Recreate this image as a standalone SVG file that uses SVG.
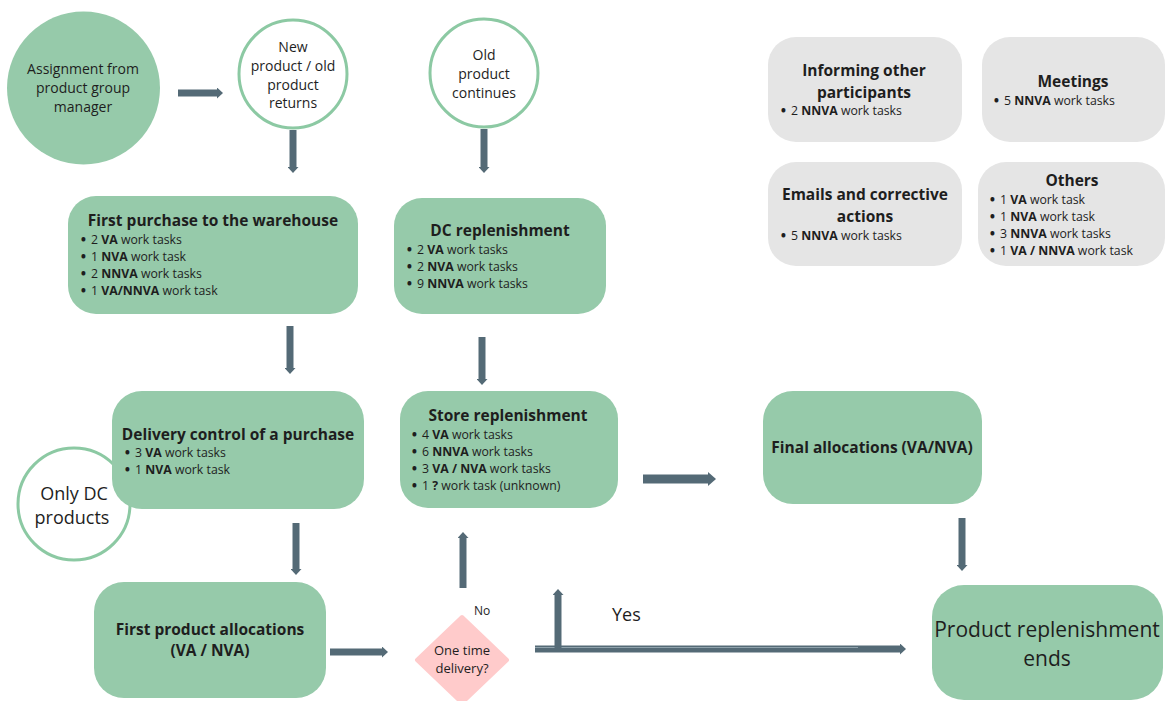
<svg xmlns="http://www.w3.org/2000/svg" width="1173" height="701" viewBox="0 0 1173 701">
  <defs>
    <marker id="head" viewBox="0 0 6 11" refX="0" refY="5.5" markerWidth="6" markerHeight="11" markerUnits="userSpaceOnUse" orient="auto">
      <path d="M0,0 L6,5.5 L0,11 z" fill="#546A76"/>
    </marker>
    <marker id="headBig" viewBox="0 0 8 14" refX="0" refY="7" markerWidth="8" markerHeight="14" markerUnits="userSpaceOnUse" orient="auto">
      <path d="M0,0 L8,7 L0,14 z" fill="#546A76"/>
    </marker>
  </defs>
  <style>
    text { font-family: "Open Sans", "Noto Sans", "Liberation Sans", sans-serif; fill: #1e1e1e; }
    .box { fill: #96CAAA; }
    .grey { fill: #E5E5E5; }
    .ring { fill: #ffffff; stroke: #8CC9A3; stroke-width: 3; }
    .title { font-size: 15.5px; font-weight: 700; text-anchor: middle; }
    .item { font-size: 12.3px; }
    .dot { font-weight: 800; }
    .b { font-weight: 700; }
    .mid { text-anchor: middle; }
    .arrow { stroke: #546A76; stroke-width: 7; fill: none; marker-end: url(#head); }
    .arrowBig { stroke: #546A76; stroke-width: 9; fill: none; marker-end: url(#headBig); }
  </style>

  <rect width="1173" height="701" fill="#ffffff"/>

  <!-- start / branch circles -->
  <g id="assignment">
    <circle cx="83.5" cy="88" r="76.5" class="box"/>
    <text class="mid" font-size="14" x="83" y="74">Assignment from</text>
    <text class="mid" font-size="14" x="83" y="93">product group</text>
    <text class="mid" font-size="14" x="83" y="112">manager</text>
  </g>
  <g id="new-product">
    <circle cx="293" cy="74" r="54" class="ring"/>
    <text class="mid" font-size="14" x="293" y="52">New</text>
    <text class="mid" font-size="14" x="293" y="71">product / old</text>
    <text class="mid" font-size="14" x="293" y="90">product</text>
    <text class="mid" font-size="14" x="293" y="108">returns</text>
  </g>
  <g id="old-product">
    <circle cx="484" cy="73" r="54" class="ring"/>
    <text class="mid" font-size="14" x="484" y="60">Old</text>
    <text class="mid" font-size="14" x="484" y="79">product</text>
    <text class="mid" font-size="14" x="484" y="98">continues</text>
  </g>

  <!-- side activities -->
  <g id="informing">
    <rect x="768" y="37" width="194" height="105" rx="28" class="grey"/>
    <text class="title" x="864" y="76">Informing other</text>
    <text class="title" x="864" y="98">participants</text>
    <text class="item" y="115"><tspan class="dot" x="781">•</tspan><tspan x="791">2 <tspan class="b">NNVA</tspan> work tasks</tspan></text>
  </g>
  <g id="meetings">
    <rect x="982" y="37" width="183" height="105" rx="28" class="grey"/>
    <text class="title" x="1073" y="87">Meetings</text>
    <text class="item" y="105"><tspan class="dot" x="994">•</tspan><tspan x="1004">5 <tspan class="b">NNVA</tspan> work tasks</tspan></text>
  </g>
  <g id="emails">
    <rect x="768" y="162" width="194" height="104" rx="28" class="grey"/>
    <text class="title" x="865" y="200">Emails and corrective</text>
    <text class="title" x="865" y="222">actions</text>
    <text class="item" y="240"><tspan class="dot" x="781">•</tspan><tspan x="791">5 <tspan class="b">NNVA</tspan> work tasks</tspan></text>
  </g>
  <g id="others">
    <rect x="978" y="162" width="187" height="104" rx="28" class="grey"/>
    <text class="title" x="1072" y="186">Others</text>
    <text class="item" y="204"><tspan class="dot" x="990">•</tspan><tspan x="1000">1 <tspan class="b">VA</tspan> work task</tspan></text>
    <text class="item" y="221"><tspan class="dot" x="990">•</tspan><tspan x="1000">1 <tspan class="b">NVA</tspan> work task</tspan></text>
    <text class="item" y="238"><tspan class="dot" x="990">•</tspan><tspan x="1000">3 <tspan class="b">NNVA</tspan> work tasks</tspan></text>
    <text class="item" y="255"><tspan class="dot" x="990">•</tspan><tspan x="1000">1 <tspan class="b">VA / NNVA</tspan> work task</tspan></text>
  </g>

  <!-- main process steps -->
  <g id="first-purchase">
    <rect x="68" y="196" width="290" height="118" rx="28" class="box"/>
    <text class="title" x="213" y="226">First purchase to the warehouse</text>
    <text class="item" y="244"><tspan class="dot" x="81">•</tspan><tspan x="91">2 <tspan class="b">VA</tspan> work tasks</tspan></text>
    <text class="item" y="261"><tspan class="dot" x="81">•</tspan><tspan x="91">1 <tspan class="b">NVA</tspan> work task</tspan></text>
    <text class="item" y="278"><tspan class="dot" x="81">•</tspan><tspan x="91">2 <tspan class="b">NNVA</tspan> work tasks</tspan></text>
    <text class="item" y="295"><tspan class="dot" x="81">•</tspan><tspan x="91">1 <tspan class="b">VA/NNVA</tspan> work task</tspan></text>
  </g>
  <g id="dc-replenishment">
    <rect x="394" y="198" width="212" height="116" rx="28" class="box"/>
    <text class="title" x="500" y="236">DC replenishment</text>
    <text class="item" y="254"><tspan class="dot" x="407">•</tspan><tspan x="417">2 <tspan class="b">VA</tspan> work tasks</tspan></text>
    <text class="item" y="271"><tspan class="dot" x="407">•</tspan><tspan x="417">2 <tspan class="b">NVA</tspan> work tasks</tspan></text>
    <text class="item" y="288"><tspan class="dot" x="407">•</tspan><tspan x="417">9 <tspan class="b">NNVA</tspan> work tasks</tspan></text>
  </g>
  <g id="only-dc">
    <circle cx="74" cy="504" r="56" class="ring"/>
    <text class="mid" font-size="18" x="74" y="500">Only DC</text>
    <text class="mid" font-size="18" x="72" y="524">products</text>
  </g>
  <g id="delivery-control">
    <rect x="112" y="391" width="252" height="118" rx="30" class="box"/>
    <text class="title" x="238" y="440">Delivery control of a purchase</text>
    <text class="item" y="457"><tspan class="dot" x="125">•</tspan><tspan x="135">3 <tspan class="b">VA</tspan> work tasks</tspan></text>
    <text class="item" y="474"><tspan class="dot" x="125">•</tspan><tspan x="135">1 <tspan class="b">NVA</tspan> work task</tspan></text>
  </g>
  <g id="store-replenishment">
    <rect x="400" y="391" width="218" height="117" rx="28" class="box"/>
    <text class="title" x="508" y="421">Store replenishment</text>
    <text class="item" y="439"><tspan class="dot" x="412">•</tspan><tspan x="422">4 <tspan class="b">VA</tspan> work tasks</tspan></text>
    <text class="item" y="456"><tspan class="dot" x="412">•</tspan><tspan x="422">6 <tspan class="b">NNVA</tspan> work tasks</tspan></text>
    <text class="item" y="473"><tspan class="dot" x="412">•</tspan><tspan x="422">3 <tspan class="b">VA / NVA</tspan> work tasks</tspan></text>
    <text class="item" y="490"><tspan class="dot" x="412">•</tspan><tspan x="422">1 <tspan class="b">?</tspan> work task (unknown)</tspan></text>
  </g>
  <g id="final-allocations">
    <rect x="763" y="391" width="219" height="113" rx="30" class="box"/>
    <text class="title" x="872" y="453">Final allocations (VA/NVA)</text>
  </g>
  <g id="first-product-allocations">
    <rect x="94" y="582" width="232" height="116" rx="30" class="box"/>
    <text class="title" x="210" y="635">First product allocations</text>
    <text class="title" x="210" y="656">(VA / NVA)</text>
  </g>
  <g id="one-time-delivery">
    <polygon points="462,617 507,660 462,703 417,660" fill="#FFCBCB" stroke="#FFCBCB" stroke-width="4" stroke-linejoin="round"/>
    <text class="mid" font-size="13" x="462" y="655">One time</text>
    <text class="mid" font-size="13" x="462" y="673">delivery?</text>
  </g>
  <g id="replenishment-ends">
    <rect x="932" y="585" width="231" height="115" rx="32" class="box"/>
    <text class="mid" font-size="21" x="1047" y="637">Product replenishment</text>
    <text class="mid" font-size="21" x="1047" y="666">ends</text>
  </g>

  <!-- connectors -->
  <g id="connectors">
    <line class="arrow" x1="178" y1="93" x2="217" y2="93"/>
    <line class="arrow" x1="293" y1="130" x2="293" y2="167"/>
    <line class="arrow" x1="484" y1="129" x2="484" y2="167"/>
    <line class="arrow" x1="290" y1="326" x2="290" y2="368"/>
    <line class="arrow" x1="482" y1="337" x2="482" y2="379"/>
    <line class="arrow" x1="296" y1="523" x2="296" y2="569"/>
    <line class="arrow" x1="330" y1="652" x2="382" y2="652"/>
    <line class="arrow" x1="463" y1="588" x2="463" y2="538"/>
    <line class="arrowBig" x1="643" y1="479" x2="708" y2="479"/>
    <line class="arrow" x1="962" y1="518" x2="962" y2="565"/>
    <!-- yes branch: long run to the end node plus the short riser -->
    <line class="arrow" x1="535" y1="649" x2="900" y2="649" stroke-width="6"/>
    <line x1="535" y1="647.5" x2="858" y2="647.5" stroke="#8FA2AC" stroke-width="1"/>
    <line class="arrow" x1="558" y1="648" x2="558" y2="595"/>
    <text font-size="12" x="474" y="615">No</text>
    <text font-size="18" x="612" y="621">Yes</text>
  </g>
</svg>
